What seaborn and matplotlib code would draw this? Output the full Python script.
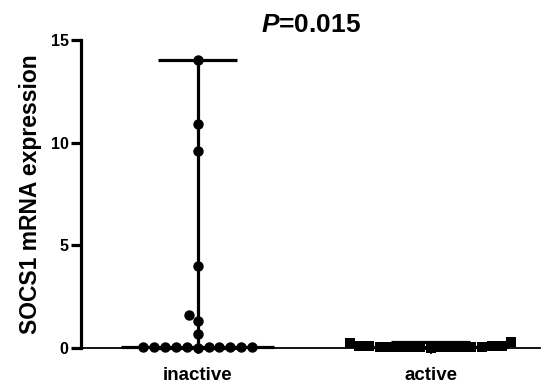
import numpy as np
import pandas as pd
import matplotlib
matplotlib.use("Agg")
import matplotlib.pyplot as plt
import seaborn as sns

# valores
groups = ["inactive", "active"]
inactive_vals = [0.02, 0.04, 0.03, 0.05, 0.06, 0.04, 0.05, 0.07, 0.03, 0.06, 0.05,
                 0.7, 1.3, 1.6, 4.0, 9.6, 10.9, 14.0]
active_vals = [0.02, 0.05, 0.08, 0.04, 0.10, 0.06, 0.03, 0.07, 0.09, 0.05,
               0.06, 0.04, 0.08, 0.03, 0.07, 0.25, 0.30]
y_ticks = [0, 5, 10, 15]
p_text = r"$\mathbfit{P}$=0.015"

df = pd.DataFrame({
    "group": ["inactive"] * len(inactive_vals) + ["active"] * len(active_vals),
    "value": inactive_vals + active_vals,
})

sns.set_style("ticks")
plt.rcParams["font.family"] = ["Liberation Sans", "DejaVu Sans"]
plt.rcParams["font.weight"] = "bold"
plt.rcParams["text.color"] = "black"
plt.rcParams["axes.labelcolor"] = "black"
plt.rcParams["mathtext.fontset"] = "custom"
plt.rcParams["mathtext.bfit"] = "Liberation Sans:bold:italic"

fig = plt.figure(figsize=(5.44, 3.83), dpi=100)
ax = fig.add_axes([0.149, 0.0914, 0.844, 0.8045])

# puntos
sns.swarmplot(data=df[df["group"] == "inactive"], x="group", y="value", order=groups,
              color="black", marker="o", size=7.5, ax=ax, clip_on=False, zorder=4)
sns.swarmplot(data=df[df["group"] == "active"], x="group", y="value", order=groups,
              color="black", marker="s", size=7.0, ax=ax, clip_on=False, zorder=4)

# mediana con rango
for i, vals in enumerate([inactive_vals, active_vals]):
    med = np.median(vals)
    ax.hlines(med, i - 0.33, i + 0.33, color="black", lw=2.3, zorder=3, clip_on=False)
    ax.vlines(i, min(vals), max(vals), color="black", lw=2.3, zorder=3, clip_on=False)
    ax.hlines(max(vals), i - 0.17, i + 0.17, color="black", lw=2.3, zorder=3, clip_on=False)
    ax.hlines(min(vals), i - 0.17, i + 0.17, color="black", lw=2.3, zorder=3, clip_on=False)

ax.set_xlim(-0.5, 1.47)
ax.set_ylim(0, 15)
ax.set_yticks(y_ticks)
ax.set_xlabel("")
ax.set_ylabel("SOCS1 mRNA expression", fontsize=16.5, fontweight="bold", labelpad=6)
ax.set_title(p_text, fontsize=19, fontweight="bold", pad=6)

sns.despine(ax=ax)
ax.spines["left"].set_linewidth(2.3)
ax.spines["bottom"].set_linewidth(1.3)
ax.spines["left"].set_color("black")
ax.spines["bottom"].set_color("black")
ax.tick_params(axis="y", length=7, width=2.3, pad=2, labelsize=11.5, colors="black")
ax.tick_params(axis="x", length=4, width=1.2, pad=10, labelsize=13.5, colors="black")
for lab in ax.get_xticklabels() + ax.get_yticklabels():
    lab.set_fontweight("bold")

fig.savefig("out.png", dpi=100)
